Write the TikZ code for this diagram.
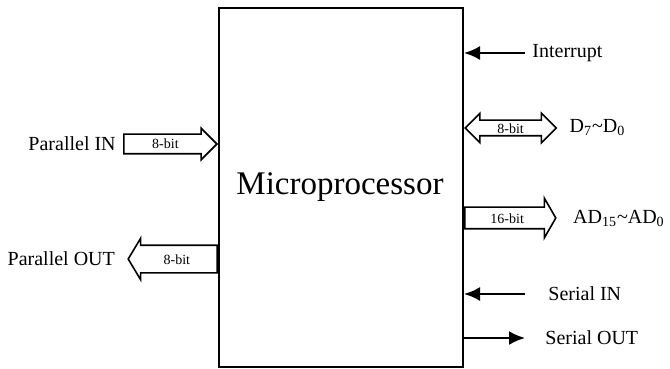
\documentclass[tikz,border=0pt]{standalone}
\usepackage{fontspec}
\setmainfont{Liberation Serif}
\usetikzlibrary{shapes.arrows,arrows.meta,positioning}
\begin{document}
\begin{tikzpicture}[x=0.5pt,y=-0.5pt,
  lbl/.style={font=\fontsize{10}{12}\selectfont,inner sep=0pt},
  bus/.style={draw,line width=0.8pt,single arrow,font=\fontsize{7}{8}\selectfont,
    text height=5pt,text depth=0pt,inner xsep=0pt,minimum width=0pt,
    single arrow head extend=3pt},
  dbus/.style={draw,line width=0.8pt,double arrow,font=\fontsize{7}{8}\selectfont,
    text height=5pt,text depth=0pt,inner xsep=0pt,minimum width=0pt,
    double arrow head extend=3.5pt},
  wire/.style={line width=1.1pt,-{Latex[length=8pt,width=7pt]}}]
\useasboundingbox (0,0) rectangle (670,369);

\node[draw,line width=1pt,minimum width=122pt,minimum height=179.5pt,inner sep=0pt] (mp) at (341,187.5) {};
\node[font=\fontsize{16.5}{20}\selectfont] (mptxt) at (340,187) {Microprocessor};

\node[bus,inner ysep=2pt,minimum height=46.5pt,anchor=tip] (pin) at (mp.west |- 0,144) {8-bit};
\node[lbl,left=3.5pt of pin.tail] (pintxt) {Parallel IN};

\node[bus,inner ysep=4pt,single arrow head extend=3.5pt,single arrow tip angle=118,
  shape border rotate=180,minimum height=44.5pt,anchor=tail] (pout) at (mp.west |- 0,259) {8-bit};
\node[lbl,left=6pt of pout.tip] (pouttxt) {Parallel OUT};

\node[lbl,anchor=west] (irq) at (532,53) {Interrupt};
\draw[wire] ([xshift=-3.5pt]irq.west) -- (mp.east |- irq.west);

\node[dbus,inner ysep=1pt,minimum height=45.5pt,anchor=west] (dd) at (mp.east |- 0,128) {8-bit};
\node[lbl,right=6pt of dd.east] (ddtxt) {D\textsubscript{7}{\char"7E}D\textsubscript{0}};

\node[bus,inner ysep=2.5pt,single arrow head extend=4.5pt,single arrow tip angle=120,
  minimum height=45.5pt,anchor=tail] (ad) at (mp.east |- 0,218) {16-bit};
\node[lbl,right=8pt of ad.tip] (adtxt) {AD\textsubscript{15}{\char"7E}AD\textsubscript{0}};

\node[lbl,anchor=west] (sin) at (548,294) {Serial IN};
\coordinate (sins) at (525,294);
\draw[wire] (sins) -- (mp.east |- sins);

\node[lbl,anchor=west] (sout) at (545,338) {Serial OUT};
\coordinate (souts) at (525,338);
\draw[wire] (mp.east |- souts) -- (souts);
\end{tikzpicture}
\end{document}
